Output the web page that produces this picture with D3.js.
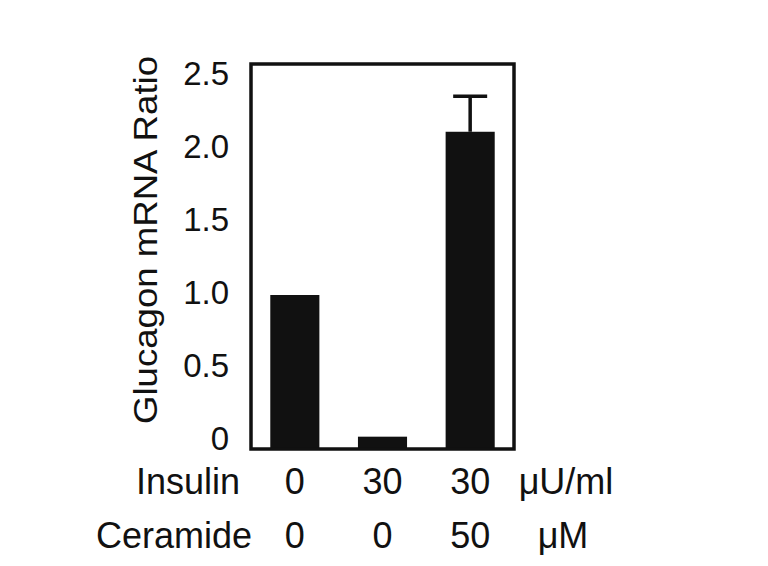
<!DOCTYPE html>
<html>
<head>
<meta charset="utf-8">
<script src="https://cdn.jsdelivr.net/npm/d3@7/dist/d3.min.js"></script>
<style>
  html, body { margin: 0; padding: 0; background: #fff; }
  svg { display: block; font-family: "Liberation Sans", Arial, sans-serif; }
</style>
</head>
<body>
<svg id="chart" width="768" height="566"></svg>
<script>
// ---- data ----
const categories = ["A", "B", "C"];
const values = [1.0, 0.08, 2.06];
const errors = [0, 0, 0.23];
const yTicks = [0, 0.5, 1.0, 1.5, 2.0, 2.5];
const yTickLabels = ["0", "0.5", "1.0", "1.5", "2.0", "2.5"];
const insulin = ["0", "30", "30"];
const ceramide = ["0", "0", "50"];
const rowLabels = ["Insulin", "Ceramide"];
const rowUnits = ["μU/ml", "μM"];
const yTitle = "Glucagon mRNA Ratio";

const svg = d3.select("#chart");
const frame = { left: 251, right: 514, top: 64, bottom: 449 };
const ink = "#111";

const x = d3.scaleBand().domain(categories).range([frame.left, frame.right]).paddingInner(0.44).paddingOuter(0.22);
const y = d3.scaleLinear().domain([0, 2.5]).range([frame.bottom, frame.top]);
// label positions (labels sit slightly inside the frame extent in the original)
const yLab = d3.scaleLinear().domain([0, 2.5]).range([438, 73]);

// bars
svg.append("g").selectAll("rect").data(values).join("rect")
  .attr("x", (d, i) => x(categories[i]))
  .attr("y", d => y(d))
  .attr("width", x.bandwidth())
  .attr("height", d => y(0) - y(d))
  .attr("fill", ink);

// error bars (upper only)
const eg = svg.append("g").attr("stroke", ink).attr("stroke-width", 3.5);
values.forEach((v, i) => {
  if (errors[i] > 0) {
    const cx = x(categories[i]) + x.bandwidth() / 2;
    eg.append("line").attr("x1", cx).attr("x2", cx).attr("y1", y(v)).attr("y2", y(v + errors[i]));
    eg.append("line").attr("x1", cx - 17).attr("x2", cx + 17).attr("y1", y(v + errors[i])).attr("y2", y(v + errors[i]));
  }
});

// frame
svg.append("rect")
  .attr("x", frame.left).attr("y", frame.top)
  .attr("width", frame.right - frame.left).attr("height", frame.bottom - frame.top)
  .attr("fill", "none").attr("stroke", ink).attr("stroke-width", 3.5);

// y axis labels
const yAxis = d3.axisLeft(yLab).tickValues(yTicks).tickSize(0).tickPadding(0)
  .tickFormat((d, i) => yTickLabels[i]);
const ya = svg.append("g").attr("transform", "translate(229,0)").call(yAxis);
ya.select(".domain").remove();
ya.selectAll("text").attr("font-size", 33).attr("fill", ink)
  .attr("font-family", "Liberation Sans, Arial, sans-serif").attr("dy", "0.36em");

// y title
svg.append("text")
  .attr("transform", "translate(157,240) rotate(-90)")
  .attr("text-anchor", "middle")
  .attr("font-size", 34)
  .attr("textLength", 368)
  .attr("lengthAdjust", "spacingAndGlyphs")
  .attr("fill", ink)
  .text(yTitle);

// bottom condition rows
const rowsY = [494, 548];
const rowData = [insulin, ceramide];
const rowLabelX = [136, 96];
const unitX = [566, 563];
rowData.forEach((row, r) => {
  svg.append("text").attr("x", rowLabelX[r]).attr("y", rowsY[r])
    .attr("font-size", 36).attr("fill", ink).text(rowLabels[r]);
  svg.append("g").selectAll("text").data(row).join("text")
    .attr("x", (d, i) => x(categories[i]) + x.bandwidth() / 2)
    .attr("y", rowsY[r])
    .attr("text-anchor", "middle")
    .attr("font-size", 36).attr("fill", ink)
    .text(d => d);
  svg.append("text").attr("x", unitX[r]).attr("y", rowsY[r])
    .attr("text-anchor", "middle")
    .attr("font-size", 36).attr("fill", ink).text(rowUnits[r]);
});
</script>
</body>
</html>
